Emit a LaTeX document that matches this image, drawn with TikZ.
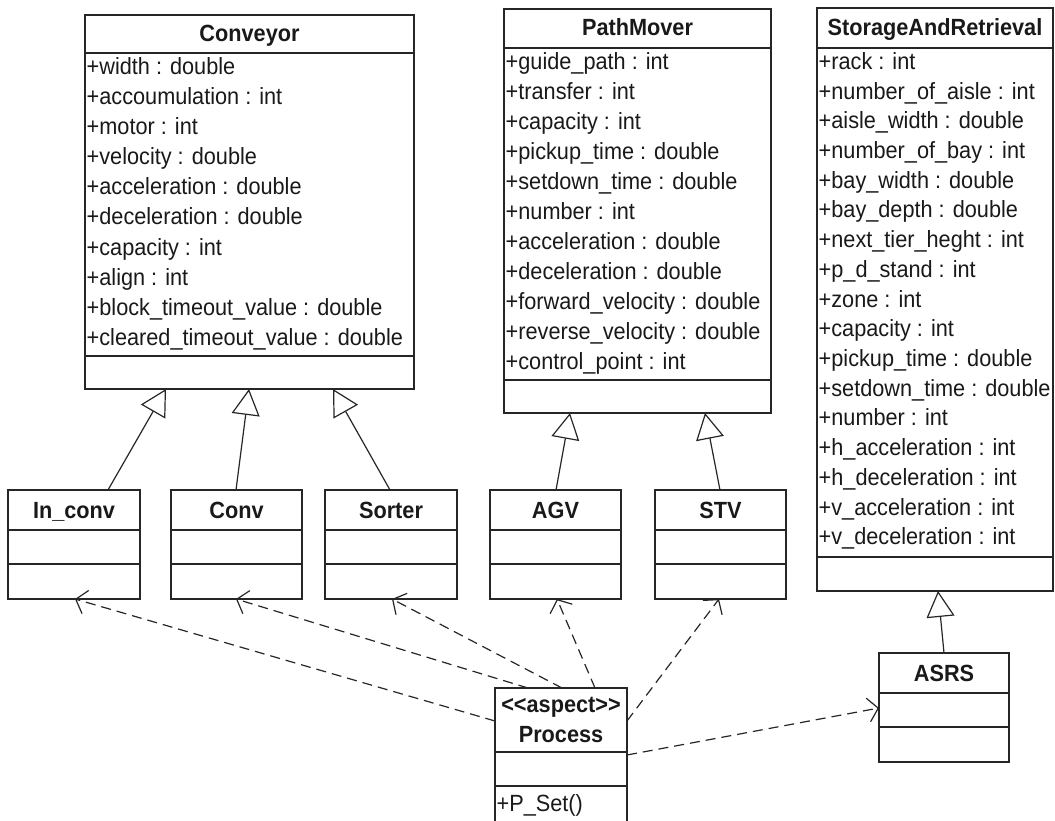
\documentclass[tikz,border=0pt]{standalone}
\usepackage{fontspec}
\setmainfont{Liberation Sans}
\usetikzlibrary{arrows.meta,fit}
\newcommand\umlfs{\fontsize{21.7}{26}\selectfont}
\newcommand\tallt[1]{\scalebox{1}[1.08]{#1}}
\begin{document}
\begin{tikzpicture}[x=1pt,y=-1pt,
  box/.style={draw=black!85, line width=1.5pt, inner sep=0pt, outer sep=0pt},
  sep/.style={draw=black!85, line width=1.5pt},
  attr/.style={anchor=base west, inner sep=0pt, font=\umlfs, text=black!90},
  ttl/.style={anchor=base, inner sep=0pt, font=\umlfs\bfseries, text=black!90},
  inh/.style={draw=black!85, line width=1.2pt, -{Triangle[open, length=26pt, width=28pt, line width=1.2pt]}},
  dep/.style={draw=black!85, line width=1.2pt, dash pattern=on 10pt off 6pt, -{Straight Barb[length=10pt, width=24pt, line width=1.2pt]}}]
\useasboundingbox (0,0) rectangle (1055,821);
\clip (0,0) rectangle (1055,821);

% ---------- Conveyor ----------
\node[box, fit={(85,15)(414,389)}] (conveyor) {};
\draw[sep] (conveyor.west |- 0,53) -- (conveyor.east |- 0,53);
\draw[sep] (conveyor.west |- 0,356) -- (conveyor.east |- 0,356);
\node[ttl] (conveyor-t) at (249.5,42) {\tallt{Conveyor}};
\foreach \t [count=\i from 0] in {{+width : double},{+accoumulation : int},{+motor : int},{+velocity : double},{+acceleration : double},{+deceleration : double},{+capacity : int},{+align : int},{+block\_timeout\_value : double},{+cleared\_timeout\_value : double}}
  \node[attr] (conveyor-a\i) at (86.5,{75+30*\i}) {\tallt{\t}};

% ---------- PathMover ----------
\node[box, fit={(504,9)(771,413)}] (pathmover) {};
\draw[sep] (pathmover.west |- 0,48) -- (pathmover.east |- 0,48);
\draw[sep] (pathmover.west |- 0,380) -- (pathmover.east |- 0,380);
\node[ttl] (pathmover-t) at (637.5,36) {\tallt{PathMover}};
\foreach \t [count=\i from 0] in {{+guide\_path : int},{+transfer : int},{+capacity : int},{+pickup\_time : double},{+setdown\_time : double},{+number : int},{+acceleration : double},{+deceleration : double},{+forward\_velocity : double},{+reverse\_velocity : double},{+control\_point : int}}
  \node[attr] (pathmover-a\i) at (505.5,{70+29.9*\i}) {\tallt{\t}};

% ---------- StorageAndRetrieval ----------
\node[box, fit={(817,8)(1053,591)}] (storage) {};
\draw[sep] (storage.west |- 0,48) -- (storage.east |- 0,48);
\draw[sep] (storage.west |- 0,557) -- (storage.east |- 0,557);
\node[ttl] (storage-t) at (935,36) {\tallt{StorageAndRetrieval}};
\foreach \t [count=\i from 0] in {{+rack : int},{+number\_of\_aisle : int},{+aisle\_width : double},{+number\_of\_bay : int},{+bay\_width : double},{+bay\_depth : double},{+next\_tier\_heght : int},{+p\_d\_stand : int},{+zone : int},{+capacity : int},{+pickup\_time : double},{+setdown\_time : double},{+number : int},{+h\_acceleration : int},{+h\_deceleration : int},{+v\_acceleration : int},{+v\_deceleration : int}}
  \node[attr] (storage-a\i) at (818.5,{69.5+29.7*\i}) {\tallt{\t}};

% ---------- small classes ----------
\foreach \n/\xa/\xb/\lab in {inconv/8/140/In\_conv, conv/171/302/Conv, sorter/325/457/Sorter, agv/490/621/AGV, stv/655/786/STV}{
  \node[box, fit={(\xa,490)(\xb,599)}] (\n) {};
  \draw[sep] (\n.west |- 0,530) -- (\n.east |- 0,530);
  \draw[sep] (\n.west |- 0,564) -- (\n.east |- 0,564);
  \node[ttl] (\n-t) at (\n.north |- 0,518) {\tallt{\lab}};
}

% ---------- ASRS ----------
\node[box, fit={(879,653)(1009,762)}] (asrs) {};
\draw[sep] (asrs.west |- 0,693) -- (asrs.east |- 0,693);
\draw[sep] (asrs.west |- 0,727) -- (asrs.east |- 0,727);
\node[ttl] (asrs-t) at (asrs.north |- 0,681) {\tallt{ASRS}};

% ---------- Process ----------
\node[box, fit={(495,688)(627,832)}] (process) {};
\draw[sep] (process.west |- 0,752) -- (process.east |- 0,752);
\draw[sep] (process.west |- 0,786) -- (process.east |- 0,786);
\node[ttl] (process-s) at (561,712) {\tallt{<{}<aspect>{}>}};
\node[ttl] (process-t) at (561,742) {\tallt{Process}};
\node[attr] (process-m) at (496.5,811) {\tallt{+P\_Set()}};

% ---------- generalizations ----------
\draw[inh] (inconv.north -| 108,0) -- (conveyor.south -| 166,0);
\draw[inh] (conv.north -| 236,0) -- (conveyor.south -| 249,0);
\draw[inh] (sorter.north -| 390,0) -- (conveyor.south -| 333,0);
\draw[inh] (agv.north -| 556,0) -- (pathmover.south -| 570,0);
\draw[inh] (stv.north -| 720,0) -- (pathmover.south -| 705,0);
\draw[inh] (asrs.north -| 944,0) -- (storage.south -| 938,0);

% ---------- dependencies ----------
\draw[dep] (process.west |- 0,721) -- (inconv.south -| 75,0);
\draw[dep] (process.north -| 528,0) -- (conv.south -| 236,0);
\draw[dep] (process.north -| 562,0) -- (sorter.south -| 392,0);
\draw[dep] (process.north -| 595,0) -- (agv.south -| 557,0);
\draw[dep] (process.east |- 0,721) -- (stv.south -| 719,0);
\draw[dep] (process.east |- 0,755) -- (asrs.west |- 0,708);
\end{tikzpicture}
\end{document}
